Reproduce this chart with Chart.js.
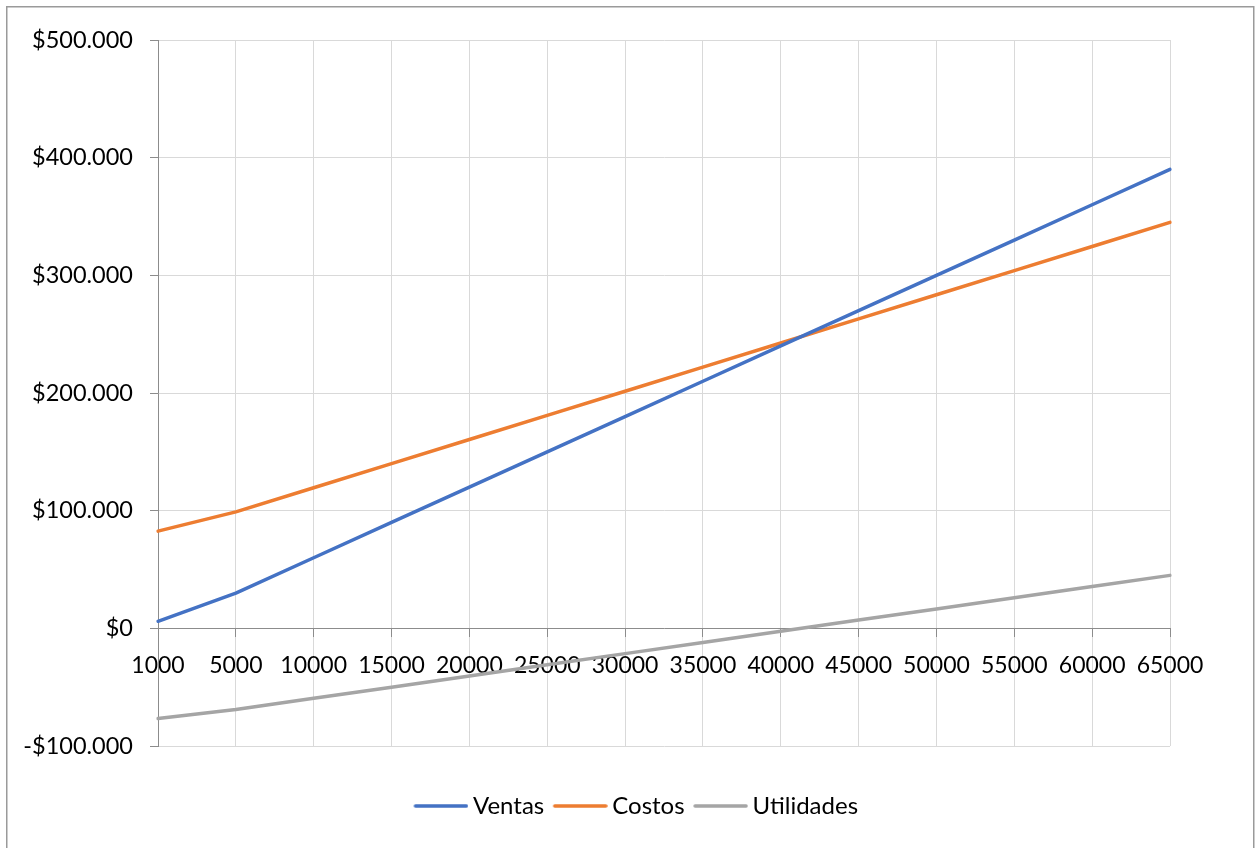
<!DOCTYPE html>
<html>
<head>
<meta charset="utf-8">
<title>Punto de equilibrio</title>
<script src="https://cdn.jsdelivr.net/npm/chart.js@4.4.1/dist/chart.umd.min.js"></script>
<style>
  html, body { margin: 0; padding: 0; background: #ffffff; overflow: hidden; }
  #wrap { position: relative; width: 1255px; height: 848px; }
</style>
</head>
<body>
<div id="wrap"><canvas id="chart"></canvas></div>
<script>
// Unidades vendidas (eje de categorías)
const unidades = ['1000', '5000', '10000', '15000', '20000', '25000', '30000',
                  '35000', '40000', '45000', '50000', '55000', '60000', '65000'];

// Series en pesos
const ventas = [6000, 30000, 60000, 90000, 120000, 150000, 180000,
                210000, 240000, 270000, 300000, 330000, 360000, 390000];
const costos = [82600, 99000, 119500, 140000, 160500, 181000, 201500,
                222000, 242500, 263000, 283500, 304000, 324500, 345000];
const utilidades = [-76600, -69000, -59500, -50000, -40500, -31000, -21500,
                    -12000, -2500, 7000, 16500, 26000, 35500, 45000];

// Eje de valores
const yMin = -100000;
const yMax = 500000;
const yStep = 100000;

const colores = { ventas: '#4472C4', costos: '#ED7D31', utilidades: '#A5A5A5' };

const FONT = 'Lato, "Open Sans", "Liberation Sans", sans-serif';
const AXIS_GREY = '#8c8c8c';
const GRID_GREY = '#d9d9d9';

// Muestra de línea para la leyenda: un trazo que empieza en el borde izquierdo del cuadro
function muestraLinea(color) {
  const c = document.createElement('canvas');
  c.width = 62; c.height = 6;
  const g = c.getContext('2d');
  g.strokeStyle = color;
  g.lineWidth = 3.5;
  g.lineCap = 'round';
  g.beginPath();
  g.moveTo(9, 3);
  g.lineTo(60, 3);
  g.stroke();
  return c;
}

function formatoPesos(v) {
  const abs = Math.abs(v).toString().replace(/\B(?=(\d{3})+(?!\d))/g, '.');
  return (v < 0 ? '-$' : '$') + abs;
}

// Marco exterior del gráfico
const marco = {
  id: 'marco',
  afterDraw(chart) {
    const ctx = chart.ctx;
    ctx.save();
    ctx.strokeStyle = '#9a9a9a';
    ctx.lineWidth = 1.5;
    ctx.strokeRect(6.75, 6.75, 1247, 900);
    ctx.restore();
  }
};

// La leyenda se centra respecto a todo el marco, no sólo al área de trazado
const centrarLeyenda = {
  id: 'centrarLeyenda',
  afterLayout(chart) {
    if (chart.legend) {
      chart.legend.left = 102;
    }
  }
};

Chart.defaults.font.family = FONT;
Chart.defaults.color = '#000000';

function serie(label, data, color) {
  return {
    label,
    data,
    borderColor: color,
    backgroundColor: color,
    borderWidth: 3.5,
    borderCapStyle: 'round',
    borderJoinStyle: 'round',
    pointRadius: 0,
    pointHoverRadius: 0,
    pointStyle: muestraLinea(color),
    tension: 0,
    fill: false
  };
}

new Chart(document.getElementById('chart'), {
  type: 'line',
  data: {
    labels: unidades,
    datasets: [
      serie('Ventas', ventas, colores.ventas),
      serie('Costos', costos, colores.costos),
      serie('Utilidades', utilidades, colores.utilidades)
    ]
  },
  plugins: [marco, centrarLeyenda],
  options: {
    responsive: true,
    maintainAspectRatio: false,
    animation: false,
    events: [],
    layout: { padding: { left: 0, right: 85, top: 40, bottom: 20 } },
    scales: {
      x: {
        type: 'category',
        offset: false,
        position: { y: 0 },
        grid: {
          color: GRID_GREY,
          lineWidth: 1,
          tickColor: AXIS_GREY,
          tickLength: 8,
          drawTicks: true
        },
        border: { display: true, color: AXIS_GREY, width: 1 },
        ticks: {
          font: { size: 23 },
          color: '#000000',
          padding: 15,
          autoSkip: false,
          maxRotation: 0,
          minRotation: 0
        }
      },
      y: {
        type: 'linear',
        min: yMin,
        max: yMax,
        afterFit(scale) { scale.width = 158; },
        grid: {
          color: GRID_GREY,
          lineWidth: 1,
          tickColor: AXIS_GREY,
          tickLength: 8
        },
        border: { display: true, color: AXIS_GREY, width: 1 },
        ticks: {
          stepSize: yStep,
          font: { size: 23.5 },
          color: '#000000',
          padding: 17,
          callback: (v) => formatoPesos(v)
        }
      }
    },
    plugins: {
      tooltip: { enabled: false },
      legend: {
        position: 'bottom',
        align: 'center',
        title: {
          display: true,
          text: '',
          font: { size: 10 },
          padding: { top: 27, bottom: 0 }
        },
        labels: {
          usePointStyle: true,
          pointStyleWidth: 47,
          padding: 9,
          color: '#000000',
          font: { size: 24 }
        }
      }
    }
  }
});
</script>
</body>
</html>
